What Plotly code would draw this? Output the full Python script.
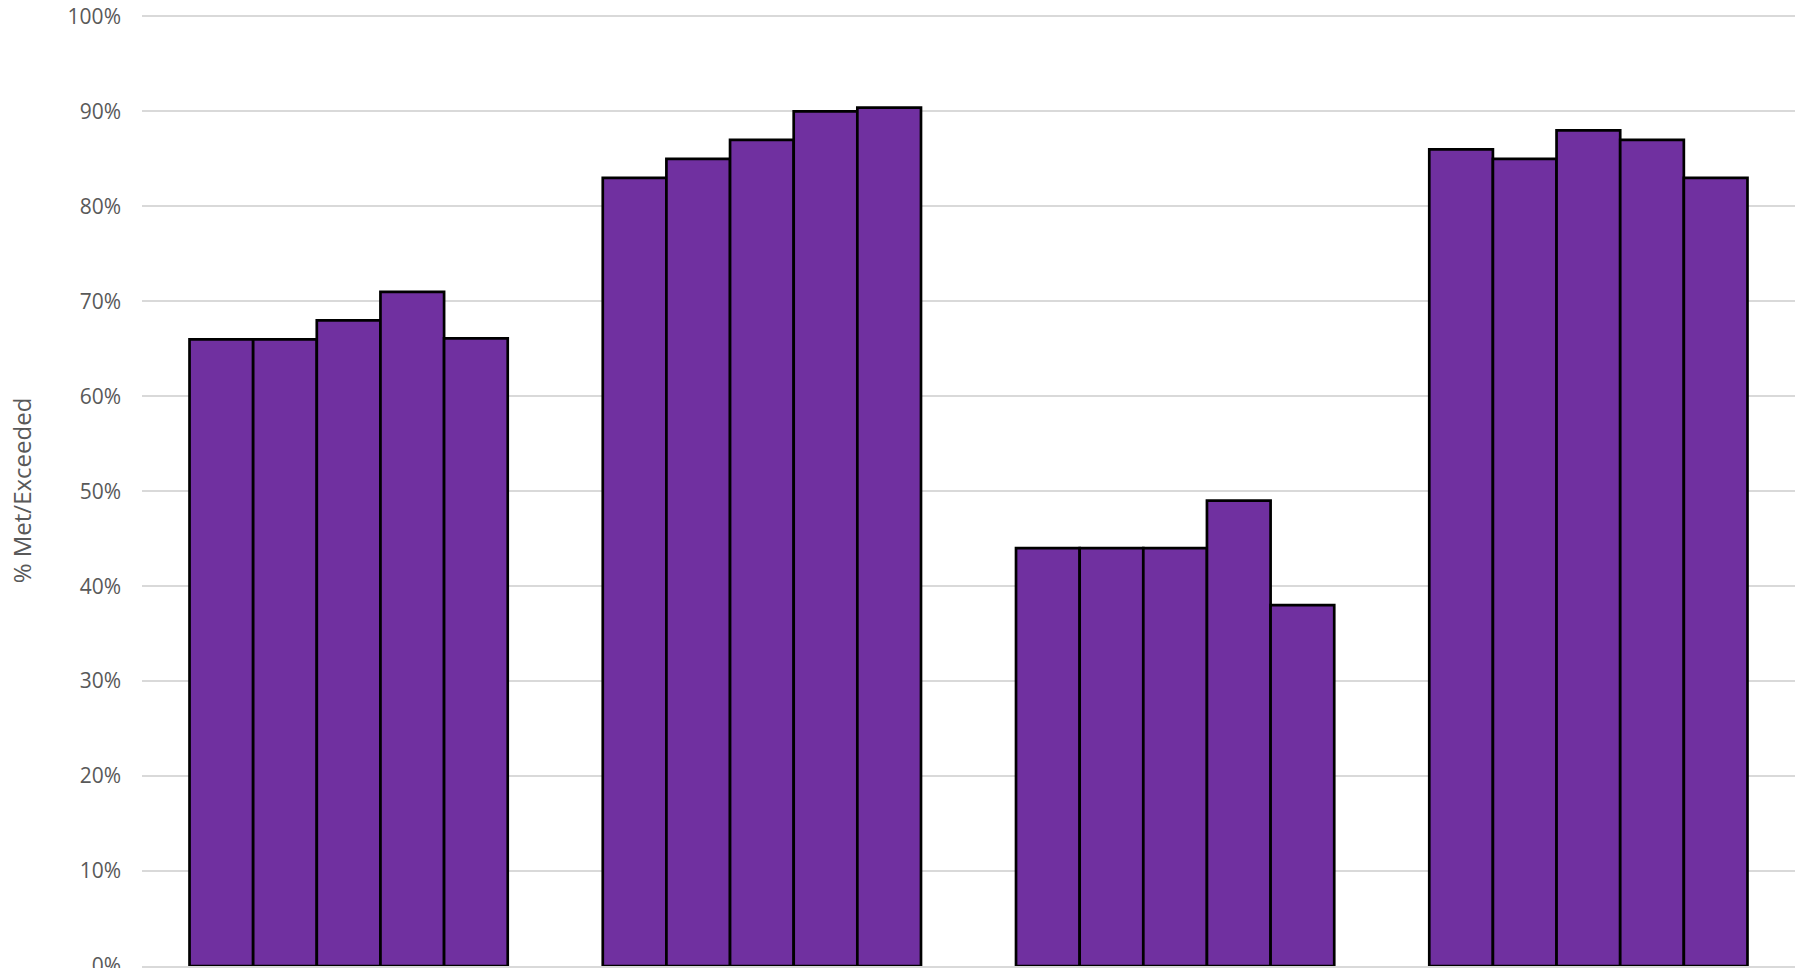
import plotly.graph_objects as go

categories = ["Group 1", "Group 2", "Group 3", "Group 4"]
series_names = ["Year 1", "Year 2", "Year 3", "Year 4", "Year 5"]
values = [
    [0.66, 0.83, 0.44, 0.86],
    [0.66, 0.85, 0.44, 0.85],
    [0.68, 0.87, 0.44, 0.88],
    [0.71, 0.90, 0.49, 0.87],
    [0.661, 0.904, 0.38, 0.83],
]
y_ticks = [i / 10 for i in range(11)]

fig = go.Figure()
for name, vals in zip(series_names, values):
    fig.add_trace(go.Bar(
        x=categories, y=vals, name=name,
        marker=dict(color="#7030A0", line=dict(color="#000000", width=2.7)),
    ))

fig.update_layout(
    width=1816, height=968,
    margin=dict(l=142, r=21, t=15, b=2),
    paper_bgcolor="white", plot_bgcolor="white",
    barmode="group", bargap=0.23, bargroupgap=0,
    showlegend=False,
    font=dict(family="Open Sans", color="#595959"),
)
fig.update_yaxes(
    range=[0, 1.0015], tickvals=y_ticks, tickformat=".0%",
    showgrid=True, gridcolor="#D9D9D9", gridwidth=2,
    zeroline=False, showline=False, automargin=False,
    tickfont=dict(size=21, color="#595959"),
    ticklabelstandoff=20, ticklabeloverflow="allow",
    title=dict(text="% Met/Exceeded", font=dict(size=24, color="#595959"), standoff=29),
)
fig.update_xaxes(
    showticklabels=False, showgrid=False, zeroline=False, automargin=False,
    showline=True, linecolor="#D9D9D9", linewidth=2,
    ticks="outside", tickson="boundaries", ticklen=6, tickcolor="#D9D9D9", tickwidth=2,
)

fig.write_html("out.html")
